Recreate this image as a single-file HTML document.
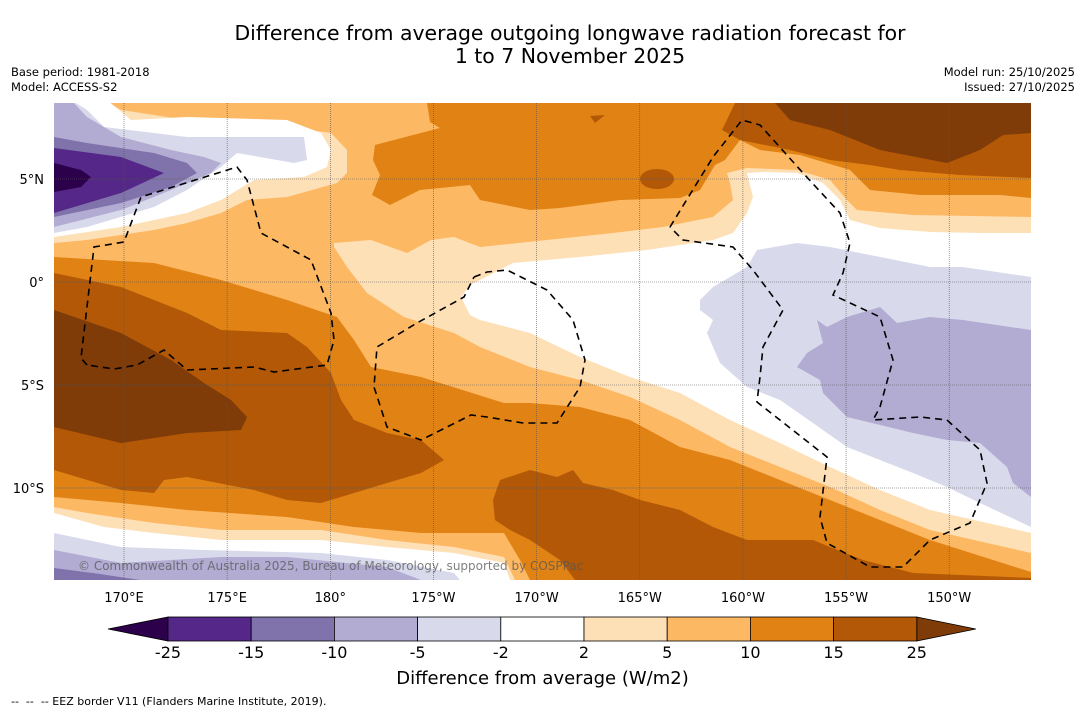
<!DOCTYPE html>
<html><head><meta charset="utf-8">
<style>
body{margin:0;background:#fff;font-family:"DejaVu Sans","Liberation Sans",sans-serif;}
#wrap{position:relative;width:1085px;height:713px;overflow:hidden;background:#fff;}
.t{position:absolute;white-space:nowrap;color:#000;}
</style></head><body>
<div id="wrap">
<div class="t" style="left:0;width:1140px;text-align:center;top:22px;font-size:20.4px;line-height:23px;">Difference from average outgoing longwave radiation forecast for<br>1 to 7 November 2025</div>
<div class="t" style="left:11px;top:65px;font-size:11.5px;line-height:15px;">Base period: 1981-2018<br>Model: ACCESS-S2</div>
<div class="t" style="right:10px;top:65px;font-size:11.5px;line-height:15px;text-align:right;">Model run: 25/10/2025<br>Issued: 27/10/2025</div>
<svg id="svg" width="1085" height="713" style="position:absolute;left:0;top:0">
<defs><clipPath id="mc"><rect x="54" y="103" width="977" height="477"/></clipPath></defs>
<g clip-path="url(#mc)">
<rect x="54" y="103" width="977" height="477" fill="#fdb863"/>
<polygon fill="#e08214" points="54,257 154,263 221,280 287,300 337,317 354,340 371,367 421,377 504,403 530,403 580,407 630,420 680,447 730,460 780,480 830,500 880,520 930,540 1031,572 1031,580 54,580"/>
<polygon fill="#fdb863" points="54,497 121,503 187,510 287,517 354,527 421,533 504,533 520,560 530,580 54,580"/>
<polygon fill="#fee0b6" points="54,507 87,513 154,523 221,530 321,530 387,540 454,547 504,557 515,580 54,580"/>
<polygon fill="#ffffff" points="54,513 104,527 154,533 221,540 321,540 387,547 454,553 504,563 510,580 54,580"/>
<polygon fill="#d8daeb" points="54,533 121,547 204,550 321,553 387,560 454,573 460,580 54,580"/>
<polygon fill="#b2abd2" points="54,550 121,563 221,557 287,557 387,567 421,580 54,580"/>
<polygon fill="#8073ac" points="54,568 100,574 140,580 54,580"/>
<polygon fill="#b35806" points="54,273 121,287 187,313 221,330 287,333 307,347 331,373 341,400 354,420 387,433 421,440 444,460 421,473 387,483 354,493 321,503 287,500 254,490 187,477 164,480 154,493 121,490 54,470"/>
<polygon fill="#7f3b08" points="54,310 121,333 171,360 204,383 231,400 247,417 241,430 187,433 121,443 54,427"/>
<polygon fill="#b35806" points="493,500 500,480 530,470 557,477 573,470 583,483 613,490 640,500 680,510 713,527 747,540 813,540 830,547 863,560 913,573 1031,578 1031,580 575,580 560,560 530,540 510,530 495,520"/>
<polygon fill="#fee0b6" points="334,243 371,240 407,253 431,240 454,237 480,247 547,240 613,233 663,227 713,217 733,200 730,183 727,173 747,168 797,170 830,180 847,200 857,210 913,215 1031,217 1031,553 930,530 880,510 830,487 780,467 730,447 680,420 630,397 580,380 530,367 480,347 454,333 404,317 367,293 347,267 334,247"/>
<polygon fill="#ffffff" points="461,297 470,285 480,280 513,263 580,257 647,250 713,240 733,233 747,213 753,197 747,173 763,172 797,173 823,183 840,200 850,220 880,228 930,232 980,233 1031,233 1031,533 930,510 880,490 830,467 780,443 730,420 680,393 630,377 580,357 530,333 480,320 470,315"/>
<polygon fill="#d8daeb" points="700,300 713,287 747,267 757,250 797,243 830,247 880,257 930,267 963,267 1031,277 1031,527 980,503 947,487 913,473 880,460 847,447 813,423 780,400 747,387 720,363 707,333 713,320 700,310"/>
<polygon fill="#b2abd2" points="817,320 827,327 847,317 880,307 897,323 930,317 963,320 1031,330 1031,497 1013,483 1007,467 980,443 947,440 913,433 847,417 823,393 820,380 797,367 807,353 823,343"/>
<polygon fill="#e08214" points="427,103 430,122 440,128 375,145 373,160 380,175 372,195 390,205 420,190 470,185 480,200 530,210 560,208 620,200 680,198 700,190 715,165 725,160 740,140 760,150 800,155 850,170 870,190 920,195 1000,195 1031,198 1031,103"/>
<polygon fill="#b35806" points="735,103 722,130 740,140 790,150 830,160 870,165 900,170 960,175 1031,178 1031,103"/>
<polygon fill="#7f3b08" points="775,103 790,120 830,130 880,150 947,163 980,150 1003,135 1031,133 1031,103"/>
<ellipse fill="#b35806" cx="657" cy="179" rx="17" ry="10"/>
<polygon fill="#b35806" points="590,116 605,115 595,123"/>
<polygon fill="#fee0b6" points="54,100 104,100 121,110 187,120 287,127 331,133 347,150 347,173 337,183 287,197 247,200 221,213 187,223 154,230 87,240 54,243"/>
<polygon fill="#ffffff" points="54,100 107,100 131,120 187,117 287,120 321,133 331,150 327,167 304,177 254,180 221,200 187,213 121,227 54,237"/>
<polygon fill="#d8daeb" points="54,100 71,100 87,110 104,127 187,137 254,137 304,137 307,160 294,163 237,153 221,167 187,190 154,207 87,227 54,233"/>
<polygon fill="#b2abd2" points="54,100 71,100 87,117 121,137 171,150 204,157 221,163 211,173 171,190 121,210 54,227"/>
<polygon fill="#8073ac" points="54,137 87,143 154,153 187,163 197,173 171,187 121,203 54,217"/>
<polygon fill="#542788" points="54,148 121,157 164,173 121,193 54,213"/>
<polygon fill="#2d004b" points="54,163 81,170 91,177 81,187 54,192"/>
<g id="grid"></g>
<polyline fill="none" stroke="#000" stroke-width="1.6" stroke-dasharray="7,5" points="87,365 81,358 94,247 124,242 141,197 237,167 247,180 261,233 287,247 311,260 331,313 334,340 327,365 274,372 254,367 187,370 164,350 137,365 114,369 87,365"/>
<polyline fill="none" stroke="#000" stroke-width="1.6" stroke-dasharray="7,5" points="474,277 487,272 507,270 547,290 573,320 585,360 580,387 557,423 523,423 487,417 471,415 421,440 387,427 374,387 377,347 417,323 464,297 474,277"/>
<polyline fill="none" stroke="#000" stroke-width="1.6" stroke-dasharray="7,5" points="670,227 713,157 742,120 760,125 803,173 840,213 850,243 843,273 833,295 880,317 893,360 880,407 873,420 920,417 947,420 980,450 987,483 970,523 930,540 903,567 870,567 827,543 820,517 827,457 757,402 760,377 763,347 783,310 753,270 733,247 683,240 670,227"/>
<text x="78" y="570" font-size="12" fill="#555" fill-opacity="0.75" font-family="DejaVu Sans, sans-serif">© Commonwealth of Australia 2025, Bureau of Meteorology, supported by COSPPac</text>
</g>
<g id="axes"></g>
<g id="cbar"></g>
</svg>
<div class="t" style="left:0;width:1085px;text-align:center;top:668px;font-size:18px;">Difference from average (W/m2)</div>
<div class="t" style="left:11px;top:695px;font-size:11px;">-- &nbsp;-- &nbsp;-- EEZ border V11 (Flanders Marine Institute, 2019).</div>
</div>
<script>
const lonTicks=[170,175,180,185,190,195,200,205,210];
const lonLabels=["170°E","175°E","180°","175°W","170°W","165°W","160°W","155°W","150°W"];
const latTicks=[5,0,-5,-10];
const latLabels=["5°N","0°","5°S","10°S"];
const cbLevels=["-25","-15","-10","-5","-2","2","5","10","15","25"];
const cbColors=["#542788","#8073ac","#b2abd2","#d8daeb","#ffffff","#fee0b6","#fdb863","#e08214","#b35806"];
const cbLow="#2d004b", cbHigh="#7f3b08";
const NS="http://www.w3.org/2000/svg";
const FF='DejaVu Sans, Liberation Sans, sans-serif';
const xLon=l=>124+(l-170)*20.63;
const yLat=l=>282-l*20.6;
const grid=document.getElementById('grid'),axes=document.getElementById('axes'),cb=document.getElementById('cbar');
function mk(tag,attrs,parent){const e=document.createElementNS(NS,tag);for(const k in attrs)e.setAttribute(k,attrs[k]);parent.appendChild(e);return e;}
lonTicks.forEach((l,i)=>{const x=xLon(l);
 const g=mk('line',{x1:x,x2:x,y1:103,y2:580,stroke:'#555','stroke-width':0.6,'stroke-dasharray':'1,1'},grid);
 
 
 const t=mk('text',{x:x,y:602,'text-anchor':'middle','font-size':13,'font-family':FF},axes);
 t.textContent=lonLabels[i];
 
 });
latTicks.forEach((l,i)=>{const y=yLat(l);
 const g=mk('line',{x1:54,x2:1031,y1:y,y2:y,stroke:'#555','stroke-width':0.6,'stroke-dasharray':'1,1'},grid);
 
 
 const t=mk('text',{x:44,y:y+5,'text-anchor':'end','font-size':13,'font-family':FF},axes);
 t.textContent=latLabels[i];
 
 });
const cx0=168,cw=83.2,cy=617,ch=24;
const lt=mk('polygon',{points:`108,${cy+ch/2} ${cx0},${cy} ${cx0},${cy+ch}`,fill:cbLow,stroke:'#000','stroke-width':0.8},cb);


const xe=cx0+cw*cbColors.length;
const rt=mk('polygon',{points:`${xe},${cy} ${xe+59},${cy+ch/2} ${xe},${cy+ch}`,fill:cbHigh,stroke:'#000','stroke-width':0.8},cb);


cbColors.forEach((c,i)=>{const r=mk('rect',{x:cx0+i*cw,y:cy,width:cw,height:ch,fill:c,stroke:'#000','stroke-width':0.8},cb);
 
 });
cbLevels.forEach((v,i)=>{const t=mk('text',{x:cx0+i*cw,y:658,'text-anchor':'middle','font-size':16,'font-family':FF},cb);
 t.textContent=v;
 
 });
</script>
</body></html>
